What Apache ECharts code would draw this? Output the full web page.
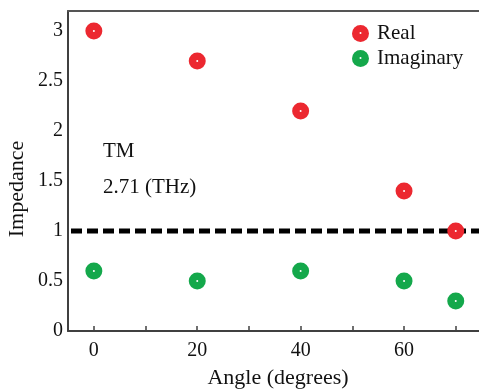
<!DOCTYPE html>
<html>
<head>
<meta charset="utf-8">
<script src="https://cdn.jsdelivr.net/npm/echarts@6/dist/echarts.min.js"></script>
<style>html,body{margin:0;padding:0;background:#fff;}#c{width:479px;height:389px;}</style>
</head>
<body>
<div id="c"></div>
<script>
const angles = [0, 20, 40, 60, 70];
const realValues = [3.0, 2.7, 2.2, 1.4, 1.0];
const imagValues = [0.6, 0.5, 0.6, 0.5, 0.3];
const xTickValues = [0, 10, 20, 30, 40, 50, 60, 70];
const xLabelValues = [0, 20, 40, 60];
const yLabelValues = [0, 0.5, 1, 1.5, 2, 2.5, 3];
const refLineValue = 1;
const seriesNames = ['Real', 'Imaginary'];
const annotations = ['TM', '2.71 (THz)'];
const xTitle = 'Angle (degrees)';
const yTitle = 'Impedance';

const FONT = '"Liberation Serif", "Times New Roman", serif';
const RED = '#EC2830';
const GREEN = '#14A84B';
const AXIS = '#404040';
const X_MIN = -5, X_MAX = 74.5;

const chart = echarts.init(document.getElementById('c'), null, {renderer: 'canvas'});
const pts = (ys) => angles.map((a, i) => [a, ys[i]]);

chart.setOption({
  animation: false,
  backgroundColor: '#fff',
  grid: {left: 68, right: 0, top: 11, bottom: 58, containLabel: false},
  xAxis: [{
    type: 'value', min: X_MIN, max: X_MAX, position: 'bottom',
    splitLine: {show: false},
    axisLine: {show: true, onZero: false, lineStyle: {color: AXIS, width: 2}},
    axisTick: {show: true, inside: true, length: 5, customValues: xTickValues, lineStyle: {color: AXIS, width: 1.5}},
    axisLabel: {customValues: xLabelValues, margin: 10, fontSize: 20, fontFamily: FONT, color: '#111'}
  }, {
    type: 'value', min: X_MIN, max: X_MAX, position: 'top',
    splitLine: {show: false},
    axisLine: {show: true, onZero: false, lineStyle: {color: '#555', width: 2}},
    axisTick: {show: false}, axisLabel: {show: false}
  }],
  yAxis: {
    type: 'value', min: 0, max: 3.2,
    splitLine: {show: false},
    axisLine: {show: true, onZero: false, lineStyle: {color: AXIS, width: 2}},
    axisTick: {show: false},
    axisLabel: {customValues: yLabelValues, margin: 5, fontSize: 20, fontFamily: FONT, color: '#111'}
  },
  legend: {
    data: seriesNames, orient: 'vertical', left: 352, top: 23, padding: 0,
    itemWidth: 17, itemHeight: 17, itemGap: 4, icon: 'circle',
    textStyle: {fontSize: 21, fontFamily: FONT, color: '#111', padding: [0, 0, 0, 3]}
  },
  series: [
    {
      name: 'ref', type: 'line', z: 1, silent: true, symbol: 'none',
      data: [[X_MIN, refLineValue], [X_MAX, refLineValue]],
      lineStyle: {color: '#000', width: 5, type: [11, 5], dashOffset: -3}
    },
    {name: seriesNames[0], type: 'scatter', z: 3, symbol: 'circle', symbolSize: 17, itemStyle: {color: RED, opacity: 1}, data: pts(realValues)},
    {name: seriesNames[1], type: 'scatter', z: 3, symbol: 'circle', symbolSize: 17, itemStyle: {color: GREEN, opacity: 1}, data: pts(imagValues)},
    {name: 'dotsR', type: 'scatter', z: 4, symbol: 'circle', symbolSize: 2, itemStyle: {color: '#fff', opacity: 1}, data: pts(realValues)},
    {name: 'dotsI', type: 'scatter', z: 4, symbol: 'circle', symbolSize: 2, itemStyle: {color: '#fff', opacity: 1}, data: pts(imagValues)}
  ],
  graphic: [
    {type: 'text', left: 103, top: 141, style: {text: annotations[0], font: '21px ' + FONT, fill: '#111'}},
    {type: 'text', left: 103, top: 177, style: {text: annotations[1], font: '21px ' + FONT, fill: '#111'}},
    {type: 'text', x: 278, y: 378, style: {text: xTitle, font: '22px ' + FONT, fill: '#111', align: 'center', verticalAlign: 'middle'}},
    {type: 'text', x: 17, y: 189, rotation: Math.PI / 2, style: {text: yTitle, font: '22px ' + FONT, fill: '#111', align: 'center', verticalAlign: 'middle'}},
    {type: 'circle', shape: {cx: 360.5, cy: 33, r: 1}, style: {fill: '#fff'}, z: 10},
    {type: 'circle', shape: {cx: 360.5, cy: 58, r: 1}, style: {fill: '#fff'}, z: 10}
  ]
});
</script>
</body>
</html>
